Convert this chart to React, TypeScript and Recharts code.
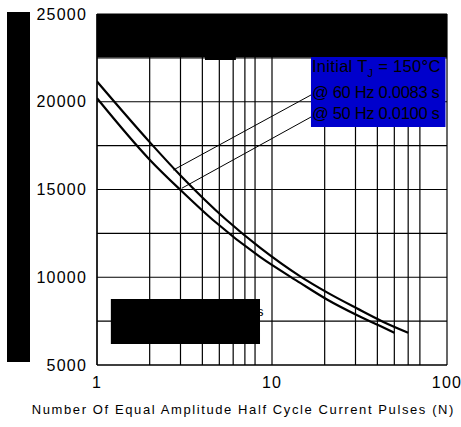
import React from 'react';
import {
  LineChart,
  Line,
  XAxis,
  YAxis,
  CartesianGrid,
  ReferenceArea,
  ReferenceLine,
} from 'recharts';

// pulses (N) and peak surge current
const pulses60 = [1, 2, 3, 5.5, 8.5, 14.5, 20.5, 30.5, 43, 60];
const current60 = [21150, 17700, 15800, 13260, 11700, 10050, 9150, 8230, 7470, 6840];
const pulses50 = [1, 2, 3, 4.6, 8.5, 14.5, 20.5, 30.5, 41, 50];
const current50 = [20200, 16700, 14970, 13260, 11170, 9680, 8750, 7850, 7250, 6840];

const xTicks = [1, 2, 3, 4, 5, 6, 7, 8, 9, 10, 20, 30, 40, 50, 60, 70, 80, 90, 100];
const xLabels = [1, 10, 100];
const yTicks = [5000, 7500, 10000, 12500, 15000, 17500, 20000, 22500, 25000];
const yLabels = [5000, 10000, 15000, 20000, 25000];

const legendLines = ['@ 60 Hz 0.0083 s', '@ 50 Hz 0.0100 s'];

const FONT = '"Liberation Sans", Arial, sans-serif';

const curve60 = pulses60.map((n, i) => ({ n, v: current60[i] }));
const curve50 = pulses50.map((n, i) => ({ n, v: current50[i] }));

const LegendText = (props: any) => {
  const { x, y } = props.viewBox;
  return (
    <g fontFamily={FONT} fontSize={16.5} fill="#000">
      <text x={x + 1} y={y + 15} letterSpacing={0.3}>
        Initial T
        <tspan fontSize={11} dy={5}>J</tspan>
        <tspan dy={-5}> = 150°C</tspan>
      </text>
      <text x={x + 1} y={y + 41} letterSpacing={-0.3}>{legendLines[0]}</text>
      <text x={x + 1} y={y + 62} letterSpacing={-0.3}>{legendLines[1]}</text>
    </g>
  );
};

const PeekS = (props: any) => {
  const { x, y, width } = props.viewBox;
  return (
    <text x={x + width - 3} y={y + 17} fontFamily={FONT} fontSize={13} fill="#000">
      s
    </text>
  );
};

const AxisTitle = (props: any) => {
  const { x, y, width } = props.viewBox;
  return (
    <text
      x={x + width + 8}
      y={y + 49}
      textAnchor="end"
      fontFamily={FONT}
      fontSize={13}
      letterSpacing={1.6}
      fill="#000"
    >
      Number Of Equal Amplitude Half Cycle Current Pulses (N)
    </text>
  );
};

export default function App() {
  return (
    <div style={{ position: 'absolute', left: 0, top: 0, width: 461, height: 427, background: '#fff' }}>
      <div style={{ position: 'absolute', left: 7, top: 12, width: 23, height: 350, background: '#000' }} />
      <LineChart width={461} height={427} margin={{ top: 14, right: 14, bottom: 0, left: 0 }}>
        <CartesianGrid stroke="#000" strokeWidth={1.2} />
        <XAxis
          type="number"
          dataKey="n"
          scale="log"
          domain={[1, 100]}
          ticks={xTicks}
          allowDataOverflow
          height={62}
          tickLine={false}
          axisLine={{ stroke: '#000', strokeWidth: 1.2 }}
          tickMargin={6}
          tick={{ fill: '#000', fontSize: 16, fontFamily: FONT, letterSpacing: 1.2 } as any}
          tickFormatter={(v: number) => (xLabels.includes(v) ? String(v) : '')}
          label={<AxisTitle />}
        />
        <YAxis
          type="number"
          domain={[5000, 25000]}
          ticks={yTicks}
          width={97}
          tickLine={false}
          axisLine={{ stroke: '#000', strokeWidth: 1.2 }}
          tickMargin={4}
          tick={{ fill: '#000', fontSize: 16, fontFamily: FONT, letterSpacing: 1.2 } as any}
          tickFormatter={(v: number) => (yLabels.includes(v) ? String(v) : '')}
        />
        <Line
          data={curve60}
          dataKey="v"
          type="monotone"
          stroke="#000"
          strokeWidth={2.2}
          dot={false}
          isAnimationActive={false}
        />
        <Line
          data={curve50}
          dataKey="v"
          type="monotone"
          stroke="#000"
          strokeWidth={2.2}
          dot={false}
          isAnimationActive={false}
        />
        <ReferenceLine
          segment={[{ x: 2.73, y: 16110 }, { x: 16.7, y: 20385 }]}
          stroke="#000"
          strokeWidth={1}
        />
        <ReferenceLine
          segment={[{ x: 3.05, y: 15070 }, { x: 16.7, y: 19130 }]}
          stroke="#000"
          strokeWidth={1}
        />
        <ReferenceArea x1={1} x2={100} y1={22550} y2={25000} fill="#000" fillOpacity={1} />
        <ReferenceArea x1={4.14} x2={6.22} y1={22380} y2={22550} fill="#000" fillOpacity={1} />
        <ReferenceArea
          x1={16.7}
          x2={98}
          y1={18560}
          y2={22550}
          fill="#0000cc"
          fillOpacity={1}
          label={<LegendText />}
        />
        <ReferenceArea
          x1={1.2}
          x2={8.54}
          y1={6200}
          y2={8760}
          fill="#000"
          fillOpacity={1}
          label={<PeekS />}
        />
      </LineChart>
    </div>
  );
}
